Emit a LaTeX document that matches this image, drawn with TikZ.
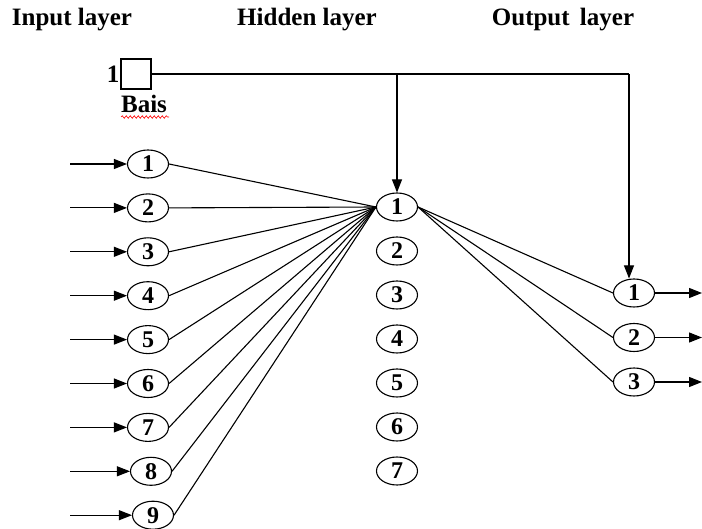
\documentclass[tikz,border=0pt]{standalone}
\usepackage{fontspec}
\setmainfont{Liberation Serif}[BoldFont={Liberation Serif Bold}]
\usetikzlibrary{arrows.meta,shapes.geometric,decorations.pathmorphing}

\tikzset{
  neuron/.style={draw,ellipse,line width=1.1pt,minimum width=41pt,minimum height=28pt,inner sep=0pt,
    font=\bfseries\fontsize{24}{26}\selectfont},
  label text/.style={font=\bfseries\fontsize{25}{28}\selectfont,inner sep=0pt},
  link/.style={line width=1.1pt},
  feed/.style={line width=1.1pt,-{Triangle[length=13pt,width=10pt]}}
}

\begin{document}
\begin{tikzpicture}[x=1pt,y=-1pt]
\useasboundingbox (0,0) rectangle (702,529);

% layer titles
\node[label text] (tin) at (72,20) {Input layer};
\node[label text] (thid) at (307,20) {Hidden layer};
\node[label text] (tout) at (563,20) {Output\hspace{4pt} layer};

% bias
\node[draw,line width=1.1pt,minimum width=30pt,minimum height=30pt,inner sep=0pt] (bias) at (136,74) {};
\node[label text,anchor=east] (one) at (bias.west) {1\kern1pt};
\node[label text] (bname) at (144,104) {Bais};
\draw[red,line width=0.6pt,decorate,decoration={snake,segment length=4pt,amplitude=1.3pt}]
  (121,117) -- (169,117);

% input layer
\foreach \i/\x in {1/148,2/148,3/148,4/148,5/148,6/148,7/148,8/151,9/153} {
  \node[neuron] (in\i) at (\x,{164+43.9*(\i-1)}) {\i};
  \coordinate (src\i) at (70,{164+43.9*(\i-1)});
  \draw[feed] (src\i) -- (in\i.west);
}

% hidden layer
\foreach \i in {1,...,7}
  \node[neuron] (hid\i) at (397,{207+44*(\i-1)}) {\i};

% output layer
\foreach \i in {1,2,3} {
  \node[neuron] (out\i) at (634,{293+44.5*(\i-1)}) {\i};
  \coordinate (dst\i) at (702,{293+44.5*(\i-1)});
  \draw[feed] (out\i.east) -- (dst\i);
}

% connections
\foreach \i in {1,...,9}
  \draw[link] (in\i.east) -- (hid1.west);
\foreach \i in {1,2,3}
  \draw[link] (hid1.east) -- (out\i.west);

% bias lines
\coordinate (bsplit) at (hid1.north |- bias.east);
\coordinate (bend) at ([xshift=-5pt]out1.north |- bias.east);
\draw[link] (bias.east) -- (bend);
\draw[feed] (bsplit) -- (hid1.north);
\draw[feed] (bend) -- ([xshift=-5pt]out1.north);
\end{tikzpicture}
\end{document}
